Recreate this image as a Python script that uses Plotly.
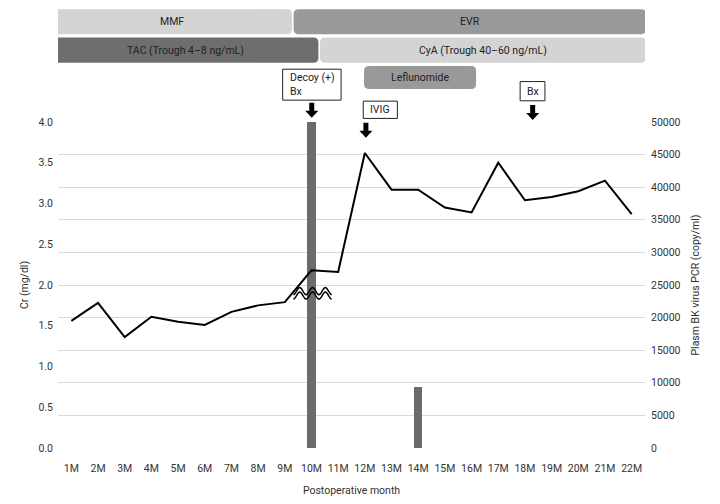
import plotly.graph_objects as go
import math

# ---------------- data ----------------
month_labels = ["1M", "2M", "3M", "4M", "5M", "6M", "7M", "8M", "9M", "10M", "11M",
                "12M", "13M", "14M", "15M", "16M", "17M", "18M", "19M", "20M", "21M", "22M"]
month_pos = list(range(1, len(month_labels) + 1))
cr_values = [1.56, 1.78, 1.36, 1.61, 1.55, 1.51, 1.67, 1.75, 1.79, 2.18, 2.16,
             3.62, 3.17, 3.17, 2.95, 2.89, 3.50, 3.04, 3.08, 3.15, 3.28, 2.87]
bk_months = [10, 14]
bk_values = [50000, 9300]

FONT = "Roboto, Liberation Sans, sans-serif"
FS = 10.5
TXT = "#333"

fig = go.Figure()
fig.add_trace(go.Bar(x=bk_months, y=bk_values, width=0.31, marker_color="#6b6b6b",
                     marker_line_width=0, yaxis="y", showlegend=False))
fig.add_trace(go.Scatter(x=month_pos, y=cr_values, mode="lines",
                         line=dict(color="black", width=2), yaxis="y2", showlegend=False))

PX_X = 26.68   # pixels per category
PX_Y = 326.0   # pixels per paper unit

def dx(p):
    return p / PX_X

def dy(p):
    return p / PX_Y

def rrect(x0, x1, y0, y1, r=5):
    rx, ry = dx(r), dy(r)
    return (f"M {x0+rx},{y1} L {x1-rx},{y1} Q {x1},{y1} {x1},{y1-ry} "
            f"L {x1},{y0+ry} Q {x1},{y0} {x1-rx},{y0} L {x0+rx},{y0} "
            f"Q {x0},{y0} {x0},{y0+ry} L {x0},{y1-ry} Q {x0},{y1} {x0+rx},{y1} Z")

shapes = []
annotations = []

def band(x0, x1, y0, y1, color, text):
    shapes.append(dict(type="path", xref="x", yref="paper", path=rrect(x0, x1, y0, y1),
                       fillcolor=color, line=dict(width=0)))
    annotations.append(dict(x=(x0 + x1) / 2, y=(y0 + y1) / 2, xref="x", yref="paper",
                            xanchor="center", yanchor="middle",
                            text=text, showarrow=False, font=dict(size=FS, color="#222", family=FONT)))

band(0.31, 9.27, 1.269, 1.346, "#d4d4d4", "MMF")
band(9.33, 22.54, 1.269, 1.346, "#999999", "EVR")
band(0.31, 10.26, 1.182, 1.259, "#6e6e6e", "TAC (Trough 4–8 ng/mL)")
band(10.32, 22.54, 1.182, 1.259, "#d4d4d4", "CyA (Trough 40–60 ng/mL)")
band(11.97, 16.17, 1.101, 1.172, "#999999", "Leflunomide")

def box(x0, x1, y0, y1, text, center=False):
    shapes.append(dict(type="rect", xref="x", yref="paper", x0=x0, x1=x1, y0=y0, y1=y1,
                       fillcolor="white", line=dict(color="#222", width=1)))
    if center:
        ax, anc = (x0 + x1) / 2, "center"
    else:
        ax, anc = x0 + dx(5), "left"
    annotations.append(dict(x=ax, y=(y0 + y1) / 2, xref="x", yref="paper",
                            text=text, showarrow=False, xanchor=anc, yanchor="middle", align="left",
                            font=dict(size=FS, color="#222", family=FONT)))

box(8.92, 11.11, 1.067, 1.162, "Decoy (+)<br>Bx")
box(11.94, 13.22, 1.011, 1.064, "IVIG", center=True)
box(17.82, 18.75, 1.065, 1.124, "Bx", center=True)

def arrow(xc, ytop):
    sw, hw = dx(2.5), dx(6.5)
    sh, hh = dy(8), dy(7)
    p = (f"M {xc-sw},{ytop} L {xc+sw},{ytop} L {xc+sw},{ytop-sh} L {xc+hw},{ytop-sh} "
         f"L {xc},{ytop-sh-hh} L {xc-hw},{ytop-sh} L {xc-sw},{ytop-sh} Z")
    shapes.append(dict(type="path", xref="x", yref="paper", path=p,
                       fillcolor="black", line=dict(width=0)))

arrow(10.01, 1.059)
arrow(12.04, 0.998)
arrow(18.29, 1.052)

# wavy break symbol on the Cr line
def wave(yc):
    x0, x1 = 9.32, 10.76
    amp = 0.043
    pts = []
    n = 60
    for i in range(n + 1):
        t = i / n
        x = x0 + (x1 - x0) * t
        y = yc - amp * math.cos(2 * math.pi * 3 * t)
        pts.append(f"{x:.4f},{y:.4f}")
    shapes.append(dict(type="path", xref="x", yref="y2", path="M " + " L ".join(pts),
                       line=dict(color="black", width=1.5)))

wave(1.925)
wave(1.870)

# The page body has an 8px default margin, so the figure is 8px smaller
fig.update_layout(
    width=712, height=496,
    margin=dict(l=50, r=75, t=114, b=56, autoexpand=False),
    plot_bgcolor="white", paper_bgcolor="white",
    font=dict(family=FONT, size=FS, color=TXT),
    xaxis=dict(range=[0.5, 22.5], tickvals=month_pos, ticktext=month_labels,
               showgrid=False, zeroline=False, showline=False, ticks="", automargin=False,
               ticklabelstandoff=12,
               tickfont=dict(size=FS, color=TXT),
               title=dict(text="Postoperative month", font=dict(size=FS, color=TXT), standoff=13)),
    yaxis=dict(side="right", range=[0, 50000], dtick=5000, tickformat="d", automargin=False,
               showgrid=True, gridcolor="#d9d9d9", gridwidth=1, zeroline=False, showline=False,
               ticks="", ticklabelstandoff=5, tickfont=dict(size=FS, color=TXT),
               title=dict(text="Plasm BK virus PCR (copy/ml)", font=dict(size=FS, color=TXT), standoff=12)),
    yaxis2=dict(overlaying="y", side="left", range=[0, 4], dtick=0.5, tickformat=".1f",
                showgrid=False, zeroline=False, showline=False, ticks="", automargin=False,
                ticklabelstandoff=4,
                tickfont=dict(size=FS, color=TXT),
                title=dict(text="Cr (mg/dl)", font=dict(size=FS, color=TXT), standoff=7)),
    shapes=shapes,
    annotations=annotations,
    bargap=0,
)

fig.write_html("out.html")
